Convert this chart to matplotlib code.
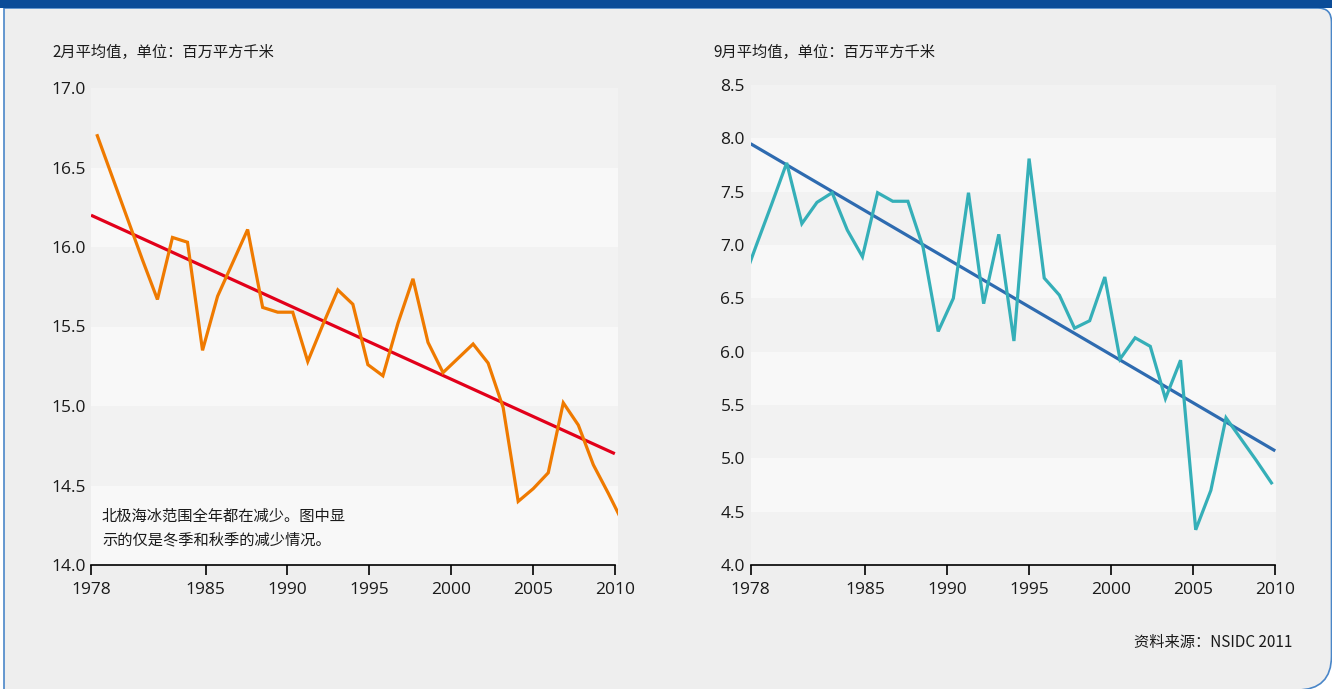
import matplotlib
matplotlib.use('Agg')
import matplotlib.pyplot as plt
from matplotlib.patches import Rectangle, PathPatch
from matplotlib.path import Path
import numpy as np

W, H = 1332, 689

# one value per plotted step
years = list(range(1977, 2013))
feb_extent = [16.70, 16.44, 16.18, 15.92, 15.67, 16.06, 16.03, 15.35, 15.69, 15.90,
              16.11, 15.62, 15.59, 15.59, 15.28, 15.51, 15.73, 15.64, 15.26, 15.19,
              15.52, 15.80, 15.40, 15.21, 15.30, 15.39, 15.27, 14.99, 14.40, 14.48,
              14.58, 15.02, 14.88, 14.63, 14.45, 14.26]
sep_extent = [6.61, 7.00, 7.38, 7.77, 7.20, 7.40, 7.49, 7.14, 6.89, 7.49,
              7.41, 7.41, 6.98, 6.19, 6.50, 7.49, 6.45, 7.10, 6.10, 7.81,
              6.69, 6.53, 6.22, 6.29, 6.70, 5.93, 6.13, 6.05, 5.56, 5.92,
              4.33, 4.70, 5.38, 5.18, 4.98, 4.77]
feb_trend = [16.2, 14.7]
sep_trend = [7.95, 5.07]

tick_years = [1978, 1985, 1990, 1995, 2000, 2005, 2010]
feb_yticks = [14.0, 14.5, 15.0, 15.5, 16.0, 16.5, 17.0]
sep_yticks = [4.0, 4.5, 5.0, 5.5, 6.0, 6.5, 7.0, 7.5, 8.0, 8.5]

feb_title = '2月平均值，单位：百万平方千米'
sep_title = '9月平均值，单位：百万平方千米'
note = '北极海冰范围全年都在减少。图中显\n示的仅是冬季和秋季的减少情况。'
source = '资料来源：NSIDC 2011'

CJK = ['Noto Sans CJK SC', 'DejaVu Sans']
NUM = ['Open Sans', 'DejaVu Sans']


def fx(px):
    return px / W


def fy(py):
    return 1 - py / H


def draw_panel(ax, values, trend, color, trend_color, yticks, xlim, tick_span):
    # horizontal bands, darker one on top
    n = len(yticks) - 1
    for i in range(n):
        shade = '#F2F2F2' if (n - 1 - i) % 2 == 0 else '#F8F8F8'
        ax.axhspan(yticks[i], yticks[i + 1], color=shade, lw=0, zorder=0)

    ax.plot(tick_span, trend, color=trend_color, lw=2.3, solid_capstyle='butt', zorder=2)
    ax.plot(years, values, color=color, lw=2.3, solid_joinstyle='miter', zorder=3)

    ax.set_xlim(xlim)
    ax.set_ylim(yticks[0], yticks[-1])
    ax.set_facecolor('none')

    tick_pos = np.interp(tick_years, [tick_years[0], tick_years[-1]], tick_span)
    ax.set_xticks(tick_pos, [str(y) for y in tick_years])
    ax.set_yticks(yticks, ['{:.1f}'.format(v) for v in yticks])
    ax.tick_params(axis='y', length=0, pad=4, labelsize=12.5)
    ax.tick_params(axis='x', length=7, width=1.2, direction='out', pad=5, labelsize=12.5)
    for lab in ax.get_xticklabels() + ax.get_yticklabels():
        lab.set_family(NUM)
        lab.set_color('#1a1a1a')

    for side in ['top', 'right', 'left']:
        ax.spines[side].set_visible(False)
    ax.spines['bottom'].set_linewidth(1.2)
    ax.spines['bottom'].set_bounds(tick_span[0], tick_span[1])


fig = plt.figure(figsize=(W / 100, H / 100), dpi=100, facecolor='white')

# page frame: grey panel with blue border and rounded right corners
verts = [(fx(4), fy(8)), (fx(1318), fy(8)), (fx(1331.5), fy(8)), (fx(1331.5), fy(22)),
         (fx(1331.5), fy(656)), (fx(1331.5), fy(690)), (fx(1297), fy(690)),
         (fx(4), fy(690)), (fx(4), fy(8))]
codes = [Path.MOVETO, Path.LINETO, Path.CURVE3, Path.CURVE3, Path.LINETO,
         Path.CURVE3, Path.CURVE3, Path.LINETO, Path.CLOSEPOLY]
fig.patches.append(PathPatch(Path(verts, codes), transform=fig.transFigure,
                             facecolor='#EEEEEE', edgecolor='#4A86C8', lw=1.2, zorder=-2))
fig.patches.append(Rectangle((0, fy(8)), 1, 8 / H, transform=fig.transFigure,
                             facecolor='#0B4C98', edgecolor='none', zorder=-1))

ax1 = fig.add_axes([fx(91), fy(565), fx(618 - 91), (565 - 88) / H])
draw_panel(ax1, feb_extent, feb_trend, '#EF7A00', '#E2001A', feb_yticks,
           (1976.58, 2011.64), (1976.58, 2011.43))

ax2 = fig.add_axes([fx(750.5), fy(565), fx(1276 - 750.5), (565 - 85) / H])
draw_panel(ax2, sep_extent, sep_trend, '#35AFB8', '#2E6BB0', sep_yticks,
           (1977.61, 2012.30), (1977.61, 2012.25))

fig.text(fx(52), fy(52), feb_title, family=CJK, fontsize=11, ha='left', va='center', color='#1a1a1a')
fig.text(fx(713), fy(52), sep_title, family=CJK, fontsize=11, ha='left', va='center', color='#1a1a1a')
fig.text(fx(102), fy(528), note, family=CJK, fontsize=11, ha='left', va='center',
         linespacing=1.55, color='#1a1a1a')
fig.text(fx(1292), fy(642), source, family=CJK, fontsize=11, ha='right', va='center', color='#1a1a1a')

fig.savefig('out.png', dpi=100, facecolor=fig.get_facecolor())
